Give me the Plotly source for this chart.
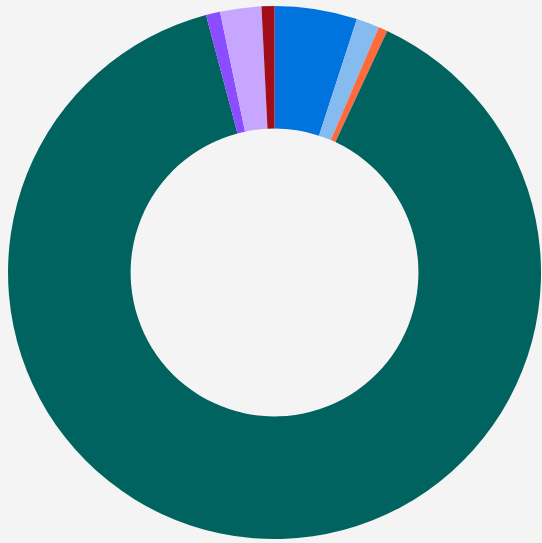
import plotly.graph_objects as go

# Share of each category, clockwise from 12 o'clock
labels = ["A", "B", "C", "D", "E", "F", "G"]
values = [5.0, 1.4, 0.55, 88.9, 0.86, 2.5, 0.78]
colors = ["#0073de", "#85bbef", "#ff6a3d", "#00635f", "#8a4dff", "#c7a6ff", "#a10e1a"]

fig = go.Figure(
    go.Pie(
        labels=labels,
        values=values,
        hole=0.54,
        sort=False,
        direction="clockwise",
        rotation=0,
        textinfo="none",
        marker=dict(colors=colors, line=dict(width=0)),
        domain=dict(x=[0.0148, 0.9982], y=[0.0055, 0.9908]),
    )
)

fig.update_layout(
    width=542,
    height=543,
    margin=dict(l=0, r=0, t=0, b=0),
    paper_bgcolor="#f4f4f4",
    plot_bgcolor="#f4f4f4",
    showlegend=False,
)

fig.write_html("out.html")
